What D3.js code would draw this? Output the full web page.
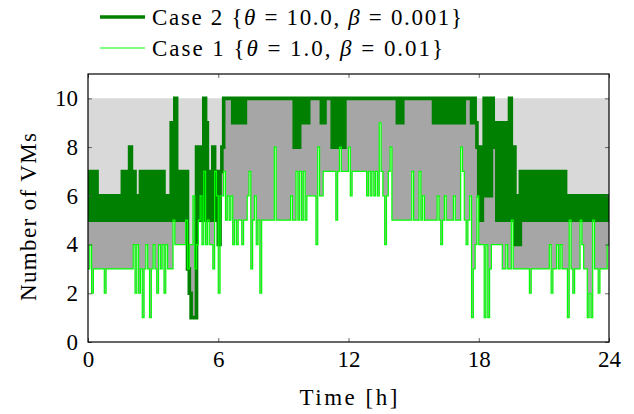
<!DOCTYPE html>
<html>
<head>
<meta charset="utf-8">
<script src="https://cdn.jsdelivr.net/npm/d3@7"></script>
<style>
  html, body { margin: 0; padding: 0; background: #fff; }
  svg { display: block; }
  svg text { font-family: "Liberation Serif", "DejaVu Serif", serif; fill: #000; }
</style>
</head>
<body>
<svg id="chart" width="634" height="414"></svg>
<script>
// Number of active VMs, one sample every 5 minutes (12 samples per hour row)
const case2Values = [
  7,5,7,5,7,5,6,5,6,5,6,5,
  6,5,6,5,6,5,6,7,5,7,5,8,
  5,7,5,6,5,7,5,7,5,7,5,7,
  5,7,5,7,5,7,5,6,5,6,9,5,
  10,5,7,5,7,5,7,3,2,1,1,1,
  8,5,8,5,10,9,5,7,5,8,5,7,
  4,7,8,10,10,10,10,10,9,10,9,10,
  9,10,9,10,10,10,10,10,10,10,10,10,
  10,10,10,10,10,10,10,10,10,10,10,10,
  10,10,10,10,10,10,8,10,8,10,9,10,
  9,9,10,10,10,10,10,10,10,9,9,10,
  10,10,10,8,10,8,10,8,10,8,10,10,
  10,10,10,10,10,10,10,10,10,10,10,10,
  10,10,10,10,10,10,10,10,10,10,10,10,
  10,10,10,9,10,9,10,10,10,10,10,10,
  10,10,10,10,10,10,10,10,10,10,10,9,
  10,9,10,9,10,9,10,9,10,9,10,9,
  10,9,10,9,10,10,10,10,9,10,9,8,
  6,5,8,10,6,10,6,10,8,9,5,9,
  5,9,5,9,5,10,5,8,4,6,4,7,
  5,7,5,7,5,7,5,7,5,7,5,7,
  5,7,5,7,5,7,5,7,5,7,5,7,
  5,6,5,6,5,6,5,6,5,6,5,6,
  5,6,5,6,5,6,5,6,5,6,5,6
];

const case1Values = [
  3,4,2,3,3,3,3,3,3,2,3,3,
  3,3,3,3,3,3,3,3,3,3,3,3,
  3,4,2,4,2,3,1,3,4,3,1,3,
  4,3,2,4,3,4,2,4,3,3,3,5,
  4,4,4,4,4,4,5,3,4,4,6,3,
  4,5,6,4,7,4,5,4,4,3,7,6,
  2,6,6,7,5,6,5,6,4,5,4,5,
  5,4,5,5,6,7,3,5,6,4,5,2,
  5,5,5,5,5,5,5,8,5,5,5,5,
  5,5,5,5,6,5,5,7,5,7,5,7,
  5,6,6,6,6,6,4,8,6,6,7,7,
  7,7,7,7,7,5,7,8,7,7,7,7,
  8,6,7,7,7,7,7,7,7,7,6,7,
  6,7,6,7,6,9,7,6,4,6,7,8,
  5,5,5,5,5,5,5,5,5,5,5,7,
  5,5,5,7,5,6,5,5,5,5,5,5,
  5,6,5,4,5,6,5,5,5,5,6,5,
  5,5,8,7,5,4,5,6,1,3,4,6,
  4,4,4,1,4,1,3,4,4,4,4,4,
  4,3,3,4,3,3,5,3,3,3,3,3,
  3,3,3,3,2,3,3,3,3,3,3,3,
  3,3,3,4,2,3,3,4,3,4,3,3,
  3,1,5,3,2,3,3,3,5,4,3,3,
  1,2,1,5,3,3,2,3,3,3,3,4
];

const samplesPerHour = 12;
const maxVMs = 10;
const xTicks = [0, 6, 12, 18, 24];
const yTicks = [0, 2, 4, 6, 8, 10];
const seriesNames = ["Case 2", "Case 1"];
const thetaValues = ["10.0", "1.0"];
const betaValues = ["0.001", "0.01"];
const xTitle = "Time [h]";
const yTitle = "Number of VMs";

// Combine both series on the shared time grid; the last sample holds until 24 h
const rows = case2Values.map((v, i) => ({ t: i / samplesPerHour, c2: v, c1: case1Values[i] }));
rows.push({ t: 24, c2: case2Values[case2Values.length - 1], c1: case1Values[case1Values.length - 1] });

const fontStack = "'Liberation Serif', 'DejaVu Serif', serif";
const fontSize = 23;

const svg = d3.select("#chart").attr("font-family", fontStack);
const plotLeft = 88, plotRight = 609, plotTop = 74, plotBottom = 342;

const x = d3.scaleLinear().domain([0, 24]).range([plotLeft, plotRight]);
const y = d3.scaleLinear().domain([0, 11]).range([plotBottom, plotTop]);

const plot = svg.append("g");

// unused capacity above Case 2, up to the VM limit
plot.append("path")
  .datum(rows)
  .attr("fill", "#d9d9d9")
  .attr("d", d3.area().curve(d3.curveStepAfter)
    .x(d => x(d.t)).y0(y(maxVMs)).y1(d => y(d.c2)));

// gap between the two cases
plot.append("path")
  .datum(rows)
  .attr("fill", "#a6a6a6")
  .attr("d", d3.area().curve(d3.curveStepAfter)
    .x(d => x(d.t)).y0(d => y(d.c1)).y1(d => y(d.c2)));

const line = key => d3.line().curve(d3.curveStepAfter).x(d => x(d.t)).y(d => y(d[key]));

plot.append("path")
  .datum(rows)
  .attr("fill", "none")
  .attr("stroke", "#008000")
  .attr("stroke-width", 3.6)
  .attr("d", line("c2"));

plot.append("path")
  .datum(rows)
  .attr("fill", "none")
  .attr("stroke", "#00ff00")
  .attr("stroke-width", 1.2)
  .attr("d", line("c1"));

// axes with inward ticks
const tickColor = "#555";
const styleAxis = g => {
  g.attr("font-family", fontStack);
  g.select(".domain").remove();
  g.selectAll(".tick line").attr("stroke", tickColor).attr("stroke-width", 0.9);
  g.selectAll(".tick text").attr("font-size", fontSize);
};

svg.append("g")
  .attr("transform", `translate(0,${plotBottom})`)
  .call(d3.axisBottom(x).tickValues(xTicks).tickSize(-4).tickPadding(9).tickFormat(d3.format("d")))
  .call(styleAxis);

svg.append("g")
  .attr("transform", `translate(0,${plotTop})`)
  .call(d3.axisTop(x).tickValues(xTicks).tickSize(-4).tickFormat(""))
  .call(styleAxis);

svg.append("g")
  .attr("transform", `translate(${plotLeft},0)`)
  .call(d3.axisLeft(y).tickValues(yTicks).tickSize(-4).tickPadding(10).tickFormat(d3.format("d")))
  .call(styleAxis);

svg.append("g")
  .attr("transform", `translate(${plotRight},0)`)
  .call(d3.axisRight(y).tickValues(yTicks).tickSize(-4).tickFormat(""))
  .call(styleAxis);

// frame
svg.append("rect")
  .attr("x", plotLeft).attr("y", plotTop)
  .attr("width", plotRight - plotLeft).attr("height", plotBottom - plotTop)
  .attr("fill", "none").attr("stroke", "#000").attr("stroke-width", 1.2);

// axis titles
svg.append("text")
  .attr("x", (plotLeft + plotRight) / 2).attr("y", 405)
  .attr("text-anchor", "middle").attr("font-size", fontSize)
  .attr("textLength", 98).attr("lengthAdjust", "spacing")
  .text(xTitle);

svg.append("text")
  .attr("transform", "translate(36,217) rotate(-90)")
  .attr("text-anchor", "middle").attr("font-size", fontSize)
  .attr("textLength", 168).attr("lengthAdjust", "spacing")
  .text(yTitle);

// legend
const legendRows = [
  { name: seriesNames[0], theta: thetaValues[0], beta: betaValues[0], color: "#008000", width: 3.6, y: 17, len: 310 },
  { name: seriesNames[1], theta: thetaValues[1], beta: betaValues[1], color: "#00ff00", width: 1.2, y: 48, len: 291 }
];
const legend = svg.append("g");
legendRows.forEach(r => {
  legend.append("line")
    .attr("x1", 100).attr("x2", 145).attr("y1", r.y).attr("y2", r.y)
    .attr("stroke", r.color).attr("stroke-width", r.width);
  const t = legend.append("text")
    .attr("x", 152).attr("y", r.y + 8).attr("font-size", fontSize)
    .attr("textLength", r.len).attr("lengthAdjust", "spacing");
  t.append("tspan").text(`${r.name} {`);
  t.append("tspan").attr("font-style", "italic").text("θ");
  t.append("tspan").text(` = ${r.theta}, `);
  t.append("tspan").attr("font-style", "italic").text("β");
  t.append("tspan").text(` = ${r.beta}}`);
});
</script>
</body>
</html>
